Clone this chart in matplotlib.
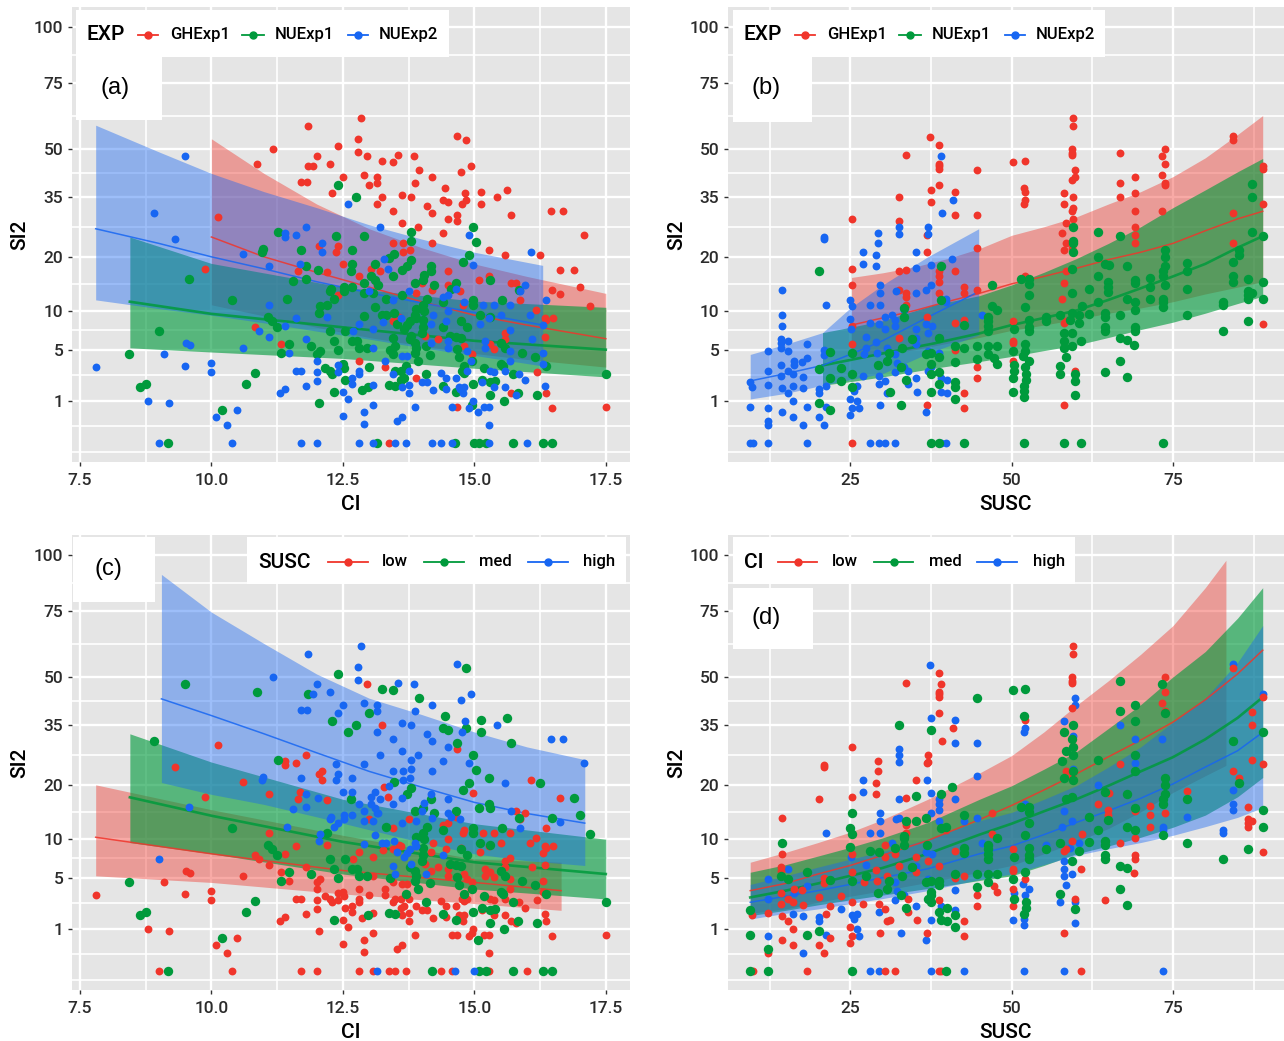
import numpy as np
import matplotlib
matplotlib.use("Agg")
import matplotlib.pyplot as plt
from matplotlib.patches import Rectangle
from matplotlib.lines import Line2D

# ---- (CI, SI2) points, grouped by experiment and SUSC class ----
ci_ghe_high = [(11.84,58),(12.85,61),(12.78,53.5),(12.78,49),(12.0,47.5),(11.94,44.5),(12.26,45),(12.5,41),(11.7,39.5),(11.82,39.5),(12.9,41.5),(13.15,41),(13.15,39),(13.55,48),(13.85,47.5),(13.87,39),(14.2,41),(13.15,33),(13.45,31),(13.63,35.5),(13.8,35),(14.1,32.5),(14.2,30.5),(14.67,54.5),(14.93,44.5),(14.75,42.5),(14.83,36),(14.77,33),(15.43,35),(16.45,31),(16.68,31),(17.08,25),(14.5,29),(13.63,28),(13.92,27),(14.4,25.5),(14.2,23),(13.45,23),(13.65,23),(13.65,21),(13.77,21.5),(15.58,20.5),(16.63,12.8),(12.4,22.5),(12.37,21),(12.5,18.5),(13.2,17),(14.5,17),(14.0,14.8),(15.7,14.7),(15.87,11.8),(14.73,13.4),(14.5,14.3),(13.9,13),(14.2,13.5),(12.4,12.7),(13.15,14.3),(13.03,17.5),(12.8,16),(11.18,50)]
ci_ghe_med = [(10.87,45),(11.84,44.5),(12.4,51),(12.3,36),(13.25,46),(13.45,45.5),(13.95,43),(13,38.5),(14.4,34),(14.5,33.5),(14.45,37.5),(14.85,53),(14.85,34),(15.13,36.5),(15.13,33),(15.63,37),(15.69,30),(14.67,30),(15.28,21.5),(16.25,20.5),(16.9,17.2),(17.0,14),(17.2,10.8),(16.47,13.5),(15.27,16),(15.08,15.4)]
ci_ghe_low = [(12.95,47.5),(13.25,35),(10.12,29.5),(14.67,28.5),(12.05,22.5),(9.88,17.5),(11.65,17),(12.2,16.8),(16.63,17.2),(15.8,14.7),(14.78,11),(16.17,10.2),(16.35,9),(16.5,9),(16.37,8.7),(10.83,7.7),(11.33,5.6),(13.45,8.6),(13.57,9.2),(14.07,6.6),(14.3,6.2),(14.8,5.4),(14.96,4.5),(15.3,5.6),(15.38,5.1),(15.58,6.9),(15.58,6.2),(16.35,6.4),(14.75,8.7),(12.8,3.9),(13.3,3.3),(13.9,2.4),(16.2,2.9),(15.7,1.4),(16.37,1.45),(16.47,.7),(17.5,.75),(14.67,.75),(13.37,0)]
ci_nue1_high = [(12.4,38.5),(13.8,25.7),(13.8,23.6),(12.9,24.7),(12.37,24.7),(10.99,21.8),(10.97,21),(11.7,21.4),(12.67,21.4),(12.67,18.5),(13.37,19.8),(11.8,18),(12.02,17.3),(11.55,15.2),(11.8,15.5),(9.57,15.5),(13.12,18.5),(13.03,16),(13.12,15.4),(13.16,14.3),(13.63,17.2),(13.45,16),(14.18,18),(14.05,16.2),(14.55,13.7),(12.9,14.7),(12.67,14.1),(12.52,14.1),(12.52,13.4),(12.27,13.6),(12.25,13.3),(12.9,13),(13.08,13),(12.33,12),(12.06,10.8),(12.05,9.8),(11.43,12),(13.63,12.6),(13.12,10.7),(13.48,9.7),(13.25,9.5),(13.33,9.5),(13.87,9.5),(13.9,9),(12.9,9.3),(13.77,8.6),(13.53,8.1),(13.72,8),(13.67,7.5),(13.8,6.6),(14.4,7.7),(9,7.2),(13.15,0),(14.63,0),(15,0),(13.5,5.4),(14.08,5.4),(13.46,6.3)]
ci_nue1_med = [(12.75,35),(14.97,27),(15.03,23.3),(11.27,25.7),(13.47,20.7),(13.8,19.4),(14.9,20.3),(14.78,19),(12.65,17),(13.72,18),(14.18,17),(14.03,15.3),(13.88,14.8),(14.23,14.3),(15.3,15.4),(14.65,14.8),(12.2,11),(10.4,11.8),(14.1,12),(14.4,11.4),(14.97,11.7),(14.97,11),(15.53,11.7),(15.85,13.5),(13.33,12),(14.03,11),(13.9,10.3),(14.05,10),(14.03,8.7),(15.1,9.5),(15.3,9.2),(11.07,9.2),(11.15,8.6),(11.25,7.7),(14.75,8.6),(14.87,7.7),(14.03,7.7),(12.55,7.2),(12.25,7.2),(13.77,6.2),(13.88,5.8),(14.0,6.9),(14.53,6.6),(14.65,6.5),(14.75,6.3),(12.33,6),(12.67,6),(12.77,6),(11.47,5.6),(11.9,5.4),(12.4,5),(12.8,5.2),(12.95,5.2),(13.9,5.2),(14.68,5.1),(13.4,5),(15.58,5.2),(15.5,5.8),(11.33,4.6),(13.88,4.6),(14.15,4.4),(14.7,4.2),(15.9,4.6),(16.15,4.2),(13.92,3.9),(8.43,4.5),(13.7,3.4),(14.8,3.4),(14.95,3.9),(15.5,3.6),(15.55,3.4),(16.37,3.4),(17.5,2.7),(15.18,3.2),(15.73,2.7),(10.83,2.8),(14.08,2.7),(10.66,2),(8.75,2),(8.65,1.8),(13.37,1.9),(13.5,1.85),(14.97,2),(15.3,2.1),(15.4,2.2),(14.4,1.85),(15.15,2.3),(12.97,1.8),(12.33,1.5),(14.65,1.5),(15.83,1.4),(15.57,1),(15.3,1.3),(16.2,1.3),(10.2,.6),(9.17,0),(15.08,0),(15.23,0),(15.73,0),(16.3,0),(16.48,0)]
ci_nue1_low = [(12.5,3.6),(12.53,3.2),(13,3.3),(13.5,3),(13.6,3),(12.17,3.2),(12.25,3),(12.3,2.7),(14.77,3),(14.8,2.8),(13.67,2.4),(13.6,2.3),(12.55,2.3),(12.87,1.6),(12.05,.9),(14.95,.8),(12.06,4.9),(12,4.5),(13.45,4.5)]
ci_nue2_high = [(13.2,27),(14.9,25)]
ci_nue2_med = [(9.5,47.5),(8.9,30.5),(12.6,33),(14.2,0),(15.07,.55)]
ci_nue2_low = [(9.3,24),(11.8,27),(11.4,25.5),(11.4,24.5),(11.6,25),(12.1,23.2),(12.1,21),(10.6,20.6),(11.1,18),(11.68,18.5),(13.35,17.5),(13.28,19.5),(16.07,21),(14.97,18.3),(15.97,14.3),(15.87,13.4),(16.37,11.7),(14.65,13.7),(14.5,12.7),(13,13.4),(11.1,11),(11.6,9),(12.2,9.2),(13.75,13.4),(13.46,11.7),(14.4,12.3),(14.8,11.5),(15.17,11),(15.37,11),(15.67,11),(16.05,9.4),(14.22,9.5),(14.5,10),(14.47,8.6),(15.1,8.2),(15.5,9.5),(12.8,8.1),(13.27,8.4),(13.6,9),(14.17,8.2),(15.28,9),(16.3,8),(11.4,7.9),(10.9,7.2),(11.1,6.5),(11.8,6.2),(12.7,7.2),(13.07,7.5),(15.67,7.4),(14.17,5.8),(14.5,5.2),(14.5,6),(15.2,6),(15.2,5.2),(16.1,6.2),(9.52,5.8),(9.6,5.5),(10.6,5.2),(13.07,5.2),(15.67,4.9),(14.87,4.9),(16.3,4.6),(11.47,4.6),(9.1,4.5),(13.63,4.3),(13.72,4.3),(14.94,3.9),(13.3,3.9),(12,3.9),(10,3.7),(7.8,3.3),(9.5,3.4),(12.4,3.5),(16.3,3.6),(15.67,3.9),(10,2.9),(11.6,3),(11.7,3),(12,2.9),(12.8,3),(12.8,2.7),(12.4,2.9),(13.75,3),(13.46,2.7),(14.36,2.8),(14.87,3),(15.3,3),(15.38,2.9),(15.58,3),(15.85,2.7),(14.47,2.4),(14.65,2.4),(12.68,2.4),(12,2.2),(14,2.1),(14.1,2.1),(15.15,2.1),(15.97,2.3),(16.35,1.85),(11.8,1.85),(12.68,2),(13.07,1.9),(13.63,1.8),(13.75,1.9),(14.7,1.8),(14.8,1.8),(15.38,1.8),(15.58,1.8),(14.22,1.6),(14.47,1.65),(14.73,1.65),(12.5,1.5),(11.4,1.65),(11.3,1.4),(13.75,1.45),(14.78,1.4),(12.6,1.1),(15.8,1.3),(8.8,1),(9.2,.9),(13.07,.8),(13.87,.75),(14.58,.75),(14.97,1),(15.18,.75),(15.28,.73),(14.9,.7),(10.48,.6),(12.9,.55),(12.5,.4),(10.08,.37),(13.63,.37),(13.53,.27),(10.3,.17),(12.9,.2),(15.28,.17),(9,0),(10.4,0),(11.7,0),(12,0),(12.8,0),(13.07,0),(13.5,0),(13.7,0),(14.37,0),(14.58,0),(15.28,0),(16,0)]

# ---- (SUSC, SI2) points, grouped by experiment and CI class ----
su_ghe_low = [(38.8,51.5),(33.7,47.8),(38.8,45),(38.8,44.5),(38.8,43.5),(59.5,61),(59.5,58),(59.3,50),(59.3,48.7),(59.3,48),(59.4,40),(73.7,50),(73.7,45),(73.3,41.5),(73.7,39),(84.3,53),(88.9,43.5),(84.3,23),(58.5,23),(59.3,22),(52,36.5),(25.2,29),(38.8,38.5),(36.9,25),(33.7,17.3),(25.2,17.5),(33.7,12.3),(25.2,5.6),(25.2,7.9),(32.6,6.3),(36.9,.8),(42.7,1.4),(42.7,.7),(44.6,3.3),(44.6,2.4),(41.2,5),(41.2,8.3),(58.1,.8),(88.9,8.2),(59.8,3),(50.2,8.6),(50.2,6),(50.2,5.7),(50.2,3.9),(58.5,8.6),(58.1,8.3),(33.7,11)]
su_ghe_med = [(44.6,43),(50.2,45.5),(52,46),(66.8,48.5),(73.3,47.5),(73.7,38.5),(69.1,41),(66.8,39),(69.1,36),(69.1,27),(69.1,23),(88.9,33),(84.3,30.5),(58.1,33),(59.5,35),(59.3,31),(59.5,29),(57.8,25.5),(58.5,28),(58.1,21.5),(58.5,17),(51.9,37.5),(32.6,35),(37.5,33.5),(25.2,14.3),(33.7,13),(42.7,14),(25.2,0),(36.9,9.2),(42.7,8.7)]
su_ghe_high = [(37.4,54),(59.8,43),(59.8,41),(66.8,35),(69.1,31),(73.3,31),(69.1,25),(84.3,54.5),(88.9,44.5),(58.1,36),(59.5,32),(58.1,14.7),(52,34),(51.9,33),(32.6,28.5),(37.5,37),(41.2,36.5),(41.2,30),(44.6,30),(44.6,22),(36.9,21),(32.6,17),(38.8,17),(38.8,16),(38.8,15),(38.8,13),(41.2,17),(42.7,13),(44.6,13.5),(52,16),(57.8,12),(32.6,13.5)]
su_nue1_low = [(20.2,17),(66.8,24.7),(87.3,38.7),(87.3,35),(87.3,25.7),(88.9,24.7),(86.7,15.5),(86.7,13.4),(86.7,12.7),(87.3,13),(86.7,12),(85.2,21.6),(77.2,18.7),(73.7,14.3),(71.5,15.7),(71.5,14),(71.5,12),(69.1,14.7),(69.1,10.2),(66.8,9.5),(69.1,7.8),(69.1,7.2),(68.9,5.5),(65.1,18.2),(63.4,16),(65,14.9),(65,14),(64.4,2.9),(60.9,10.8),(59.4,9.7),(60.7,6),(52,4.9),(50.2,2.4),(47,14.3),(47,10.8),(47.3,4.1),(47.8,3.6),(42.7,5.2),(38.8,6.3),(38.8,2.9),(30.7,3.9),(31.1,1.5),(25.2,2.7),(23.5,3.2),(21.8,2.4),(20.2,3.1),(21.8,.6),(38.8,0),(60.8,0)]
su_nue1_med = [(59.5,27),(59.5,23),(59.5,21),(59.3,17.5),(39.1,18),(63.4,25.7),(88.9,15),(88.9,12),(86.7,8.5),(85.2,20.3),(82.8,7.2),(77.2,17),(77.2,9.5),(73.7,21.5),(73.7,20),(73.7,18),(73.4,17),(73.4,16),(73.4,10.7),(69.1,15.4),(69.1,11.5),(67.9,18),(67.9,12),(66.8,6.3),(67.9,6.1),(66.8,3.9),(67.9,2.5),(64.4,18.5),(65,13.2),(63.4,11.4),(62,13.7),(62,9.6),(64.4,9.7),(64.4,9.2),(64.4,7.7),(64.4,7.2),(60.4,8.3),(57.5,9.5),(55.3,8.6),(59.4,6.9),(57.5,3.4),(59.8,2.2),(52.7,14.6),(51.4,15.5),(52.7,15.6),(52.7,12.6),(52,10.7),(52.7,8.7),(52.7,7.7),(52.7,7.2),(52,5.6),(52.2,2.7),(52.2,2.3),(51.9,1.85),(50.2,4.9),(50.3,7.5),(50.3,3),(47.8,10.2),(46.4,9.2),(46.4,8.6),(46.4,7.9),(46.4,7.2),(46.4,5.4),(47.8,5.4),(46.4,4.5),(44.6,5.4),(44.6,4),(42.7,8),(41.2,5.4),(41.2,1.8),(41.2,1.1),(39.1,11.8),(38.8,4.2),(38.8,2),(37.5,4.6),(36.8,4.5),(37.5,3.6),(37.5,2.7),(34.5,6.2),(33.3,10.5),(33.3,9.2),(33,5.2),(32.8,3.3),(33.6,2.3),(31,4.6),(29.3,3.5),(25.2,4.6),(21.8,4.8),(20.2,.9)]
su_nue1_high = [(59.5,23.6),(59.3,13),(84.3,18.8),(84.3,16),(84.3,15),(82.8,11.4),(82.8,11),(77.2,13.7),(73.4,12),(73.4,11.5),(63.4,20),(60.4,9.4),(59.1,8.7),(55.3,9.2),(58.1,6.9),(58.1,6),(58.1,5.2),(59.4,5.4),(58.5,4.2),(57.5,2.7),(59.8,2.7),(59.8,1.3),(51.8,4.3),(52.7,3.9),(52,3.3),(51.9,1.55),(51.9,1.2),(50.3,3.5),(50.2,1.5),(41.2,3.8),(41.2,2.1),(37.5,1.5),(32.8,.8),(25.2,1.8),(23.5,2.2),(37.5,0),(42.7,0),(51.9,0),(58.1,0),(73.4,0)]
su_nue2_low = [(39.1,47.5),(40.9,34),(39.2,30.5),(37.1,27),(37.1,25.3),(29.3,25.5),(29.3,23),(21,24.5),(21,24),(29,20.5),(35.2,21),(29,18),(14.4,13.5),(39.8,11.4),(14.4,7.9),(30.4,9.2),(30.4,7.5),(32,7.9),(35.2,7.5),(14.2,6.2),(14.2,5.7),(21,5),(21,4.4),(29,5.9),(30.7,5.2),(35.2,5.6),(37.1,6.9),(27.2,4.5),(29.1,4.6),(16.3,3.9),(17.5,3.8),(14.2,3.5),(15.4,3),(16.2,2.7),(14.2,2.6),(17.7,2.5),(12.3,1.9),(9.8,1.8),(14.4,1.7),(15.3,1.4),(21.2,1.85),(26.9,2.6),(29.5,2.6),(30.4,2.2),(33.9,3),(33.9,2),(35.4,1.5),(30.7,1.45),(16.2,1),(25,1.1),(25.2,.7),(25,.45),(29.6,.8),(14.4,.55),(20.2,.37),(16.2,.37),(21,.18),(12.3,.17),(10,0),(18.3,0),(30.4,0),(32,0),(39,0)]
su_nue2_med = [(35.2,17.7),(40.8,19.5),(35.2,12.9),(36.8,13.5),(25,11.7),(25.2,10.8),(39.8,12),(14.4,9.4),(25,8.9),(32,8.7),(33.3,10.2),(28,8.3),(29.5,8.1),(14.2,5.2),(18.3,5.6),(15.4,4.9),(27.4,5.2),(30.7,3.9),(38.8,4.6),(37.1,3),(37.5,3.3),(9.5,2.1),(40,2.3),(39,1.5),(40,1.4),(9.5,.75),(18.3,.75),(12.3,.26),(9.5,0),(12.3,0),(39.8,0)]
su_nue2_high = [(32.5,27),(32.5,25.3),(26.9,21),(26.9,18.5),(37.5,18.3),(29.6,14.3),(29.6,12.9),(32.1,13.4),(37.5,14.3),(21.2,11),(28,11),(29.6,11),(31.4,9.4),(45.4,9.5),(36.8,8.1),(37.6,7.9),(25.1,7.5),(27.4,6.5),(15.4,6),(12.3,4.9),(33,5.2),(35.2,6.3),(32,4.5),(32.3,3.7),(33.3,3.3),(37.1,4.9),(16.3,3.5),(18.3,4.1),(12.3,3),(16.2,1.85),(17.7,1.7),(20.2,1.65),(20.2,1.4),(29.5,2),(32,2.9),(35.2,2.4),(39,2.4),(26,1.85),(25.6,1.55),(26.1,1),(26.3,.7),(12.3,.7),(21.2,.75),(17.7,.17),(36.7,.55),(28,0),(29.4,0)]

# ---- fitted curves and confidence bands ----
a_ghe_x=[10,11,12,13,14,15,16,17.5]; a_ghe_up=[53.5,42,33,26.5,22,18.5,16,12.9]; a_ghe_fit=[24.5,20,16.8,14,11.5,9.4,8,6.25]; a_ghe_lo=[11,9.3,7.7,6.4,5.4,4.6,4,3.3]
a_n1_x=[8.45,10,12.5,15,17.5]; a_n1_up=[24.5,18.6,14,11.6,10.6]; a_n1_fit=[11.5,9.6,7.7,6,5]; a_n1_lo=[5.2,4.75,4.1,3.2,2.5]
a_n2_x=[7.8,9,10,11,12,13,14,15,16.3]; a_n2_up=[58.4,49,42,36.5,32,27.5,24,21,18.2]; a_n2_fit=[26.5,23,20,17.5,15,13,11.3,9.8,8]; a_n2_lo=[11.8,10.4,9.4,8.3,7.2,6.2,5.2,4.4,3.4]

b_ghe_x=[25.2,30,35,40,45,50,55,60,65,70,75,80,85,88.9]
b_ghe_up=[15.8,16.7,17.9,19.6,21.8,24.9,27,29.5,33,36.5,41,47,55,62]
b_ghe_fit=[8,9,10.1,11.5,12.9,14.6,16,17.6,19.4,21,23,26,29,31]
b_ghe_lo=[4,4.5,5,5.7,6.4,7.3,8,8.8,9.7,10.5,11.5,12.8,14,15]
b_n1_x=[20.7,25,30,38,45,50,55,60,65,70,75,80,85,88.9]
b_n1_up=[7,7.7,8.6,11,12.5,14.4,16.8,19.6,23,27,32,37,42.5,46.8]
b_n1_fit=[3.45,3.95,4.6,5.7,6.9,8,9,10.1,11.8,13.8,16,18.5,22,24.7]
b_n1_lo=[1.9,2.15,2.5,3.2,3.8,4.3,4.9,5.5,6.4,7.4,8.4,9.7,11.2,12.4]
b_n2_x=[9.5,15,20.7,25,30,37,44.9]; b_n2_up=[4.5,5.6,7,10.5,14.4,20,26.5]; b_n2_fit=[2.2,2.75,3.45,4.5,6,9.1,13.2]; b_n2_lo=[1.1,1.4,1.9,2.3,2.75,4.6,6.7]

c_low_x=[7.8,10,12.5,15,16.65]; c_low_up=[20,15,10.6,7.2,6.8]; c_low_fit=[10.3,7.9,5.8,4.5,3.7]; c_low_lo=[5.2,4.5,3.4,2.6,2.1]
c_med_x=[8.45,10,12.5,15,17.5]; c_med_up=[32.5,25.2,17,12.5,10]; c_med_fit=[17.4,13.9,9.6,6.8,5.4]; c_med_lo=[9.5,7.9,5.4,3.85,2.97]
c_high_x=[9.05,10,11,12,13,14,15,16,17.1]; c_high_up=[91,74.5,62,51,43,38,33,29,25.8]; c_high_fit=[42.8,37.7,32.5,27.5,23,19.5,16.4,14.3,12.6]; c_high_lo=[20.5,18,16,13.7,11.5,9.5,7.9,7,6.4]

d_low_x=[9.5,15,20,25,30,37,45,50,55,60,65,70,75,80,83.2]
d_low_up=[6.8,8.1,9.5,11.1,13.2,17,22.6,26.8,33,40.7,48.7,58,69,85,97.6]
d_low_lo=[1.9,2.2,2.7,3.2,3.7,4.5,5.6,6.4,7.9,9.6,11.7,14.6,18.4,22,24.4]
d_low_fit_x=[9.5,15,20,25,30,37,45,50,55,60,65,70,75,80,85,88.9]
d_low_fit=[3.7,4.4,5.4,6.4,7.7,9.8,13.2,15.8,18.9,22.4,26.5,30.8,35.8,42.5,51,59.5]
d_x=[9.5,15,20,25,30,37,45,50,55,60,65,70,75,80,85,88.9]
d_med_up=[5.6,6.5,7.6,8.8,10.2,12.7,17,19.8,23.5,27.7,34,41,50,59,72,85]
d_med_fit=[3.1,3.7,4.4,5.2,6.1,7.9,10.7,12.5,14.7,17,19.8,23,26.4,31,37,43.3]
d_med_lo=[1.75,2.1,2.5,2.9,3.3,3.9,4.7,5.2,6.4,7.9,9,10.3,11.9,14,17.5,21.6]
d_high_up=[4.3,5.2,6.2,7.2,8.2,10,13,14.5,17,19.8,24,29,35.8,43,55,69]
d_high_fit=[2.7,3.2,3.7,4.3,5,6,7.9,9,10.7,12.7,14.8,17.2,20.2,24,28,32.9]
d_high_lo=[1.54,1.9,2.2,2.6,3,3.7,4.8,5.4,6.5,7.7,8.6,9.5,10.6,12,13.6,15.4]

y_major = [1,5,10,20,35,50,75,100]
y_minor = [-0.053,0.16,2.62,7.3,14.6,27,42,61.8,87]
ci_major = [7.5,10,12.5,15,17.5]; ci_minor=[8.75,11.25,13.75,16.25]
ci_labels = ['7.5','10.0','12.5','15.0','17.5']
su_major = [25,50,75]; su_minor=[12.5,37.5,62.5,87.5]
exp_names = ['GHExp1','NUExp1','NUExp2']
level_names = ['low','med','high']

RED='#F0352B'; GREEN='#009A3C'; BLUE='#1766F2'
W,H=1284,1041
plt.rcParams['font.family']=['Roboto','DejaVu Sans']
plt.rcParams['font.weight']=500
TXT='#2b2b2b'

fig=plt.figure(figsize=(W/100,H/100),dpi=100,facecolor='white')

def fwd(v):
    v=np.asarray(v,dtype=float); return np.sign(v)*np.sqrt(np.abs(v))
def inv(v):
    v=np.asarray(v,dtype=float); return np.sign(v)*v*v

def panel(x0,x1,y0,y1,xlim,xmaj,xmin,xlab,xname,ylab_x):
    ax=fig.add_axes([x0/W,1-y1/H,(x1-x0)/W,(y1-y0)/H],facecolor='#E5E5E5')
    ax.set_yscale('function',functions=(fwd,inv))
    ax.set_xlim(*xlim); ax.set_ylim(-0.22,110)
    ax.set_xticks(xmaj); ax.set_xticklabels(xlab); ax.set_xticks(xmin,minor=True)
    ax.set_yticks(y_major); ax.set_yticklabels([str(v) for v in y_major]); ax.set_yticks(y_minor,minor=True)
    ax.yaxis.set_minor_formatter(matplotlib.ticker.NullFormatter())
    ax.grid(True,which='major',color='white',lw=1.7)
    ax.grid(True,which='minor',color='white',lw=1.2)
    ax.set_axisbelow(True)
    for s in ax.spines.values(): s.set_visible(False)
    ax.tick_params(which='minor',length=0)
    ax.tick_params(which='major',length=3.2,width=1,color='#333333',labelcolor=TXT,labelsize=12.5,pad=3)
    ax.tick_params(axis='x',which='major',pad=5)
    fig.text((x0+x1)/2/W,1-(y1+42)/H,xname,ha='center',va='center',fontsize=15,color='black')
    fig.text(ylab_x/W,1-(y0+y1)/2/H,'SI2',rotation=90,ha='center',va='center',fontsize=15,color='black')
    return ax

def band(ax,x,up,fit,lo,c,a,fit_x=None,lw=1.1):
    ax.fill_between(x,lo,up,color=c,alpha=a,lw=0,zorder=2)
    ax.plot(x if fit_x is None else fit_x,fit,color=c,lw=lw,alpha=.85,zorder=3)

def draw(ax,layers):
    for k,(g,c,s) in enumerate(layers):
        p=np.array(g)
        ax.scatter(p[:,0],p[:,1],s=s,color=c,lw=0,zorder=4+k*0.01)

def box(x0,y0,x1,y1):
    fig.add_artist(Rectangle((x0/W,1-y1/H),(x1-x0)/W,(y1-y0)/H,transform=fig.transFigure,facecolor='white',edgecolor='none',zorder=10))

def legend(x0,x1,y0,y1,title,title_x,items):
    box(x0,y0,x1,y1)
    yc=(y0+y1)/2+1
    fig.text(title_x/W,1-(yc+0.5)/H,title,ha='left',va='center',fontsize=15,color='black',zorder=11)
    for (lx0,lx1,tx,name,c) in items:
        fig.add_artist(Line2D([lx0/W,lx1/W],[1-yc/H]*2,color=c,lw=1.3,transform=fig.transFigure,zorder=11))
        fig.add_artist(Line2D([(lx0+lx1)/2/W],[1-yc/H],marker='o',ms=5,mfc=c,mec=c,lw=0,transform=fig.transFigure,zorder=12))
        fig.text(tx/W,1-yc/H,name,ha='left',va='center',fontsize=12,color='black',zorder=11)

def tag(x0,y0,x1,y1,s,tx,ty):
    box(x0,y0,x1,y1)
    fig.text(tx/W,1-(ty+1)/H,s,ha='center',va='center',fontsize=17,family=['Liberation Sans'],fontweight='normal',color='black',zorder=11)

CI_LIM=(7.35,17.96); SU_LIM=(6.06,92.2)
S_RB=32; S_G=46
G_LW=1.9

# (a)
ax=panel(72,630,7,462,CI_LIM,ci_major,ci_minor,ci_labels,'CI',20)
band(ax,a_ghe_x,a_ghe_up,a_ghe_fit,a_ghe_lo,RED,.42)
band(ax,a_n1_x,a_n1_up,a_n1_fit,a_n1_lo,GREEN,.62,lw=G_LW)
band(ax,a_n2_x,a_n2_up,a_n2_fit,a_n2_lo,BLUE,.42)
draw(ax,[(ci_ghe_high+ci_ghe_med+ci_ghe_low,RED,S_RB),(ci_nue1_high+ci_nue1_med+ci_nue1_low,GREEN,S_G),(ci_nue2_high+ci_nue2_med+ci_nue2_low,BLUE,S_RB)])
# (b)
ax=panel(728,1284,7,462,SU_LIM,su_major,su_minor,[str(v) for v in su_major],'SUSC',677)
band(ax,b_ghe_x,b_ghe_up,b_ghe_fit,b_ghe_lo,RED,.42)
band(ax,b_n1_x,b_n1_up,b_n1_fit,b_n1_lo,GREEN,.62,lw=G_LW)
band(ax,b_n2_x,b_n2_up,b_n2_fit,b_n2_lo,BLUE,.42)
draw(ax,[(su_ghe_low+su_ghe_med+su_ghe_high,RED,S_RB),(su_nue2_low+su_nue2_med+su_nue2_high,BLUE,S_RB),(su_nue1_low+su_nue1_med+su_nue1_high,GREEN,S_G)])
# (c)
ax=panel(72,630,535,990,CI_LIM,ci_major,ci_minor,ci_labels,'CI',20)
band(ax,c_low_x,c_low_up,c_low_fit,c_low_lo,RED,.42)
band(ax,c_med_x,c_med_up,c_med_fit,c_med_lo,GREEN,.62,lw=G_LW)
band(ax,c_high_x,c_high_up,c_high_fit,c_high_lo,BLUE,.42)
draw(ax,[(ci_ghe_low+ci_nue1_low+ci_nue2_low,RED,S_RB),(ci_ghe_med+ci_nue1_med+ci_nue2_med,GREEN,S_G),(ci_ghe_high+ci_nue1_high+ci_nue2_high,BLUE,S_RB)])
# (d)
ax=panel(728,1284,535,990,SU_LIM,su_major,su_minor,[str(v) for v in su_major],'SUSC',677)
band(ax,d_low_x,d_low_up,d_low_fit,d_low_lo,RED,.42,fit_x=d_low_fit_x)
band(ax,d_x,d_med_up,d_med_fit,d_med_lo,GREEN,.62,lw=G_LW)
band(ax,d_x,d_high_up,d_high_fit,d_high_lo,BLUE,.42)
draw(ax,[(su_ghe_high+su_nue1_high+su_nue2_high,BLUE,S_RB),(su_ghe_low+su_nue1_low+su_nue2_low,RED,S_RB),(su_ghe_med+su_nue1_med+su_nue2_med,GREEN,S_G)])

legend(76,449,10,57,'EXP',87,[(138,158,170,exp_names[0],RED),(242,264,275,exp_names[1],GREEN),(348,368,379,exp_names[2],BLUE)])
tag(76,57,162,120,'(a)',115,87)
legend(733,1105,10,57,'EXP',744,[(795,815,827,exp_names[0],RED),(899,921,932,exp_names[1],GREEN),(1005,1025,1036,exp_names[2],BLUE)])
tag(733,57,812,122,'(b)',766,87)
legend(247,626,537,584,'SUSC',258,[(328,368,382,level_names[0],RED),(424,464,479,level_names[1],GREEN),(528,568,583,level_names[2],BLUE)])
tag(73,537,155,602,'(c)',108,568)
legend(733,1075,537,584,'CI',744,[(778,817,832,level_names[0],RED),(874,913,929,level_names[1],GREEN),(977,1017,1033,level_names[2],BLUE)])
tag(733,588,813,649,'(d)',766,617)

fig.savefig('out.png',dpi=100,facecolor='white')
